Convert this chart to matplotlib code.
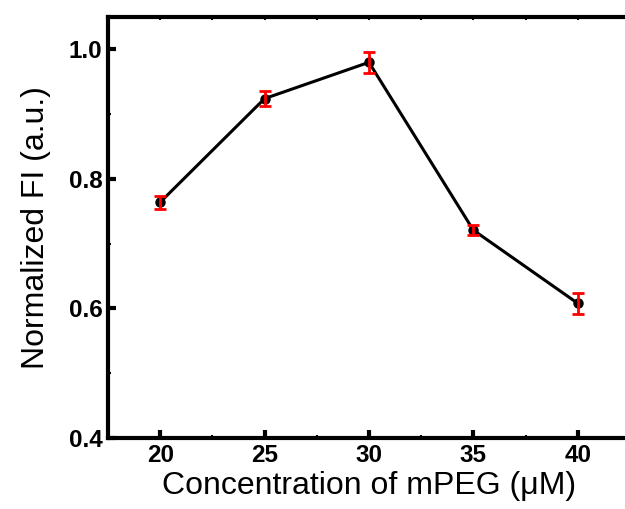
import matplotlib
matplotlib.use("Agg")
import matplotlib.pyplot as plt
from matplotlib.ticker import MultipleLocator, FixedLocator

# data
conc = [20, 25, 30, 35, 40]
fi = [0.764, 0.924, 0.980, 0.721, 0.608]
fi_err = [0.010, 0.012, 0.016, 0.008, 0.016]

x_ticks = [20, 25, 30, 35, 40]
y_ticks = [0.4, 0.6, 0.8, 1.0]

plt.rcParams['font.family'] = ['Liberation Sans', 'DejaVu Sans']

fig = plt.figure(figsize=(6.25, 5.09), dpi=100)
ax = fig.add_axes([0.1728, 0.1395, 0.835, 0.8271])

ax.plot(conc, fi, color='black', lw=2.2, marker='o', ms=6.5, zorder=2)
ax.errorbar(conc, fi, yerr=fi_err, fmt='none', ecolor='red', elinewidth=2,
            capsize=4, capthick=2, zorder=3)

ax.set_xlim(17.5, 42.5)
ax.set_ylim(0.4, 1.05)
ax.set_xticks(x_ticks)
ax.set_yticks(y_ticks)
ax.set_yticklabels(['0.4', '0.6', '0.8', '1.0'])
ax.xaxis.set_minor_locator(FixedLocator([17.5 + 2.5 * i for i in range(11)]))
ax.xaxis.remove_overlapping_locs = False
ax.yaxis.set_minor_locator(MultipleLocator(0.1))

for s in ax.spines.values():
    s.set_linewidth(3)

ax.tick_params(axis='both', which='major', direction='in', length=6, width=3,
               labelsize=17.5, pad=4)
ax.tick_params(axis='both', which='minor', direction='in', length=2.5, width=1.5)
ax.tick_params(axis='x', which='major', top=False)
ax.tick_params(axis='x', which='minor', top=True, bottom=True)
for lbl in ax.get_xticklabels() + ax.get_yticklabels():
    lbl.set_fontweight('bold')

ax.set_xlabel('Concentration of mPEG (\u03bcM)', fontsize=23, labelpad=3)
ax.set_ylabel('Normalized FI (a.u.)', fontsize=23, labelpad=13)

fig.savefig('out.png', dpi=100)
